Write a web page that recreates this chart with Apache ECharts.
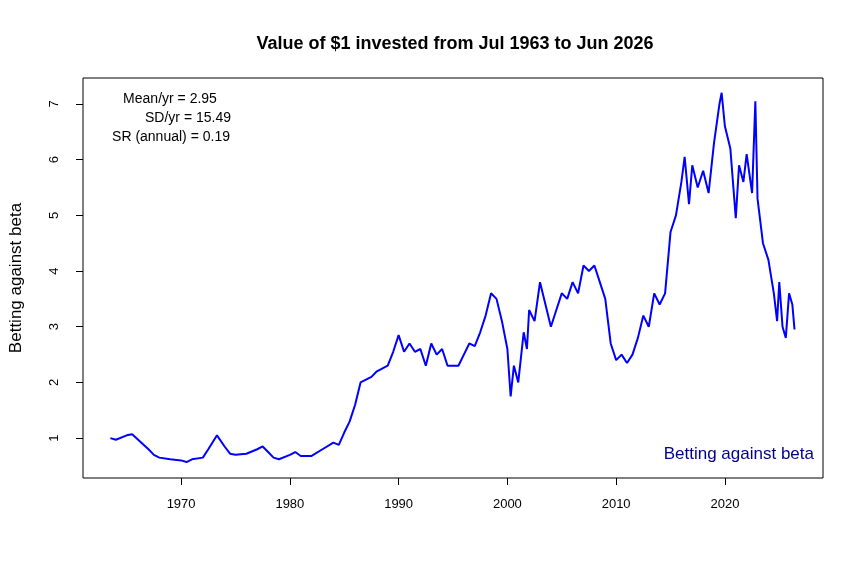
<!DOCTYPE html>
<html lang="en">
<head>
  <meta charset="UTF-8">
  <title>Betting against beta</title>
  <script src="https://cdn.jsdelivr.net/npm/echarts@6/dist/echarts.min.js"></script>
</head>
<body style="margin:0">
  <div id="main" style="width:864px;height:576px"></div>
  <script>
    // cumulative value of $1
    var years = [1963.5,1964,1965,1965.5,1966,1967,1967.5,1968,1969,1970,1970.5,1971,1972,1972.5,1973.3,1974,1974.5,1975,1976,1977,1977.5,1978,1978.5,1979,1980,1980.5,1981,1982,1983,1984,1984.5,1985,1985.5,1986,1986.5,1987,1987.5,1988,1989,1989.5,1990,1990.5,1991,1991.5,1992,1992.5,1993,1993.5,1994,1994.5,1995.5,1996,1996.5,1997,1997.5,1998,1998.5,1999,1999.5,2000,2000.3,2000.6,2001,2001.5,2001.8,2002,2002.5,2003,2003.5,2004,2004.5,2005,2005.5,2006,2006.5,2007,2007.5,2008,2008.5,2009,2009.5,2010,2010.5,2011,2011.5,2012,2012.5,2013,2013.5,2014,2014.5,2015,2015.5,2016,2016.3,2016.7,2017,2017.5,2018,2018.5,2019,2019.5,2019.7,2020,2020.5,2021,2021.3,2021.7,2022,2022.5,2022.8,2023,2023.5,2024,2024.5,2024.8,2025,2025.3,2025.6,2025.9,2026.2,2026.4];
    var values = [1.0,0.97,1.05,1.07,0.98,0.8,0.7,0.65,0.62,0.6,0.57,0.62,0.65,0.8,1.05,0.85,0.72,0.7,0.72,0.8,0.85,0.75,0.65,0.62,0.7,0.75,0.68,0.68,0.8,0.92,0.88,1.1,1.3,1.6,2.0,2.05,2.1,2.2,2.3,2.55,2.85,2.55,2.7,2.55,2.6,2.3,2.7,2.5,2.6,2.3,2.3,2.5,2.7,2.65,2.9,3.2,3.6,3.5,3.1,2.6,1.75,2.3,2.0,2.9,2.6,3.3,3.1,3.8,3.4,3.0,3.3,3.6,3.5,3.8,3.6,4.1,4.0,4.1,3.8,3.5,2.7,2.4,2.5,2.35,2.5,2.8,3.2,3.0,3.6,3.4,3.6,4.7,5.0,5.6,6.05,5.2,5.9,5.5,5.8,5.4,6.3,7.0,7.2,6.6,6.2,4.95,5.9,5.6,6.1,5.4,7.05,5.3,4.5,4.2,3.6,3.1,3.8,3.0,2.8,3.6,3.4,2.95];
    var xTicks = [1970, 1980, 1990, 2000, 2010, 2020];
    var yTicks = [1, 2, 3, 4, 5, 6, 7];

    var chart = echarts.init(document.getElementById('main'));
    var data = years.map(function (y, i) { return [y, values[i]]; });
    var font = 'Liberation Sans, Arial, sans-serif';

    chart.setOption({
      animation: false,
      title: {
        text: 'Value of $1 invested from Jul 1963 to Jun 2026',
        left: 450, top: 30, textAlign: 'center',
        textStyle: { fontFamily: font, fontSize: 18, fontWeight: 'bold', color: '#000' }
      },
      grid: { left: 78, right: 41, top: 78, bottom: 98, show: true, borderColor: '#000', borderWidth: 1 },
      xAxis: {
        type: 'value', min: 1960.98, max: 2029.02,
        splitLine: { show: false }, axisLine: { show: false },
        axisTick: { show: true, length: 7, lineStyle: { color: '#000' }, customValues: xTicks },
        axisLabel: { customValues: xTicks, formatter: function (v) { return String(v); }, color: '#000', fontFamily: font, fontSize: 13, margin: 20 }
      },
      yAxis: {
        type: 'value', min: 0.284, max: 7.466,
        name: 'Betting against beta', nameLocation: 'middle', nameGap: 58,
        nameTextStyle: { fontFamily: font, fontSize: 17, color: '#000' },
        splitLine: { show: false }, axisLine: { show: false },
        axisTick: { show: true, length: 7, lineStyle: { color: '#000' }, customValues: yTicks },
        axisLabel: { customValues: yTicks, rotate: 90, color: '#000', fontFamily: font, fontSize: 13, margin: 22 }
      },
      series: [{
        type: 'line', data: data, showSymbol: false,
        lineStyle: { color: '#0000ff', width: 2 }
      }],
      graphic: [
        { type: 'text', x: 170, y: 92, style: { text: 'Mean/yr = 2.95', font: '14px Liberation Sans, Arial', fill: '#000', align: 'center' } },
        { type: 'text', x: 188, y: 111, style: { text: 'SD/yr = 15.49', font: '14px Liberation Sans, Arial', fill: '#000', align: 'center' } },
        { type: 'text', x: 171, y: 130, style: { text: 'SR (annual) = 0.19', font: '14px Liberation Sans, Arial', fill: '#000', align: 'center' } },
        { type: 'text', right: 50, top: 446, style: { text: 'Betting against beta', font: '17px Liberation Sans, Arial', fill: '#00008b' } }
      ]
    });
  </script>
</body>
</html>
